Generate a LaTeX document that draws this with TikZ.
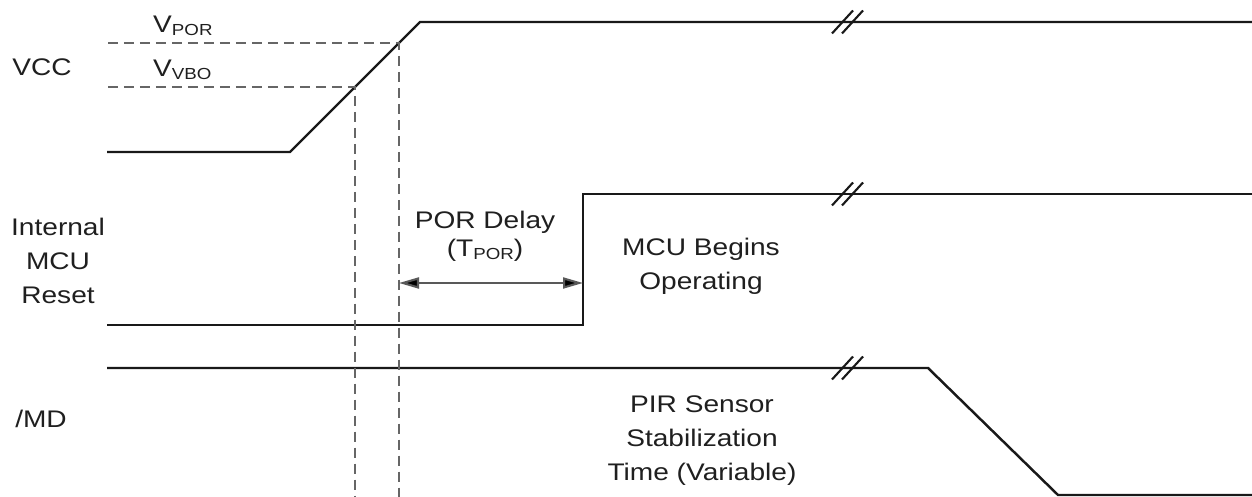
\documentclass[tikz,border=0pt]{standalone}
\usepackage{fontspec}
\setmainfont[FakeStretch=1.17]{Liberation Sans}
\usetikzlibrary{arrows.meta}
\newcommand{\sbs}[1]{\raisebox{-0.12em}{\fontsize{9.1}{11}\selectfont #1}}

\begin{document}
\begin{tikzpicture}[x=1cm,y=1cm,line width=1.4pt,font=\fontsize{13.66}{19.6}\selectfont,
  sig/.style={draw=black!90,line width=1.4pt},
  guide/.style={draw=black!60,line width=0.85pt,dash pattern=on 5.7pt off 3.4pt},
  brk/.style={draw=black!90,line width=1.2pt},
  lbl/.style={inner sep=0pt,align=center,anchor=base,text=black!88}]
\useasboundingbox (0,0) rectangle (25.04,9.94);
\coordinate (vlo) at (2.14,6.90);
\coordinate (vup) at (5.80,6.90);
\coordinate (vtop) at (8.40,9.50);
\coordinate (vbo) at (7.10,8.20);
\coordinate (por) at (7.98,9.08);
\coordinate (rup) at (11.66,6.06);
\coordinate (rlo) at (11.66,3.44);
\coordinate (mdfall) at (18.56,2.58);
\coordinate (mdlow) at (21.16,0.04);
\draw[sig] (vlo)--(vup)--(vtop)--(25.04,9.50);
\draw[sig] (2.14,3.44)--(rlo)--(rup)--(25.04,6.06);
\draw[sig] (2.14,2.58)--(mdfall)--(mdlow)--(25.04,0.04);
\draw[guide] (2.16,9.08)--(por)--(7.98,0);
\draw[guide] (2.16,8.20)--(vbo)--(7.10,0);
\coordinate (dly) at (7.98,4.28);
\coordinate (dlyend) at (11.66,4.28);
\draw[draw=black!65,line width=1.2pt,{Triangle[length=0.4cm,width=0.22cm,fill=black]}-{Triangle[length=0.4cm,width=0.22cm,fill=black]}] (dly)--(dlyend);
\foreach \y in {9.50,6.06,2.58}
  \draw[brk] (16.64,\y-0.23)--++(0.42,0.46) (16.84,\y-0.23)--++(0.42,0.46);
\node[lbl] (vcc) at (0.84,8.42) {VCC};
\node[lbl,anchor=base west] (vporlbl) at (3.04,9.28) {V\sbs{POR}};
\node[lbl,anchor=base west] (vvbolbl) at (3.04,8.40) {V\sbs{VBO}};
\node[lbl] (rst) at (1.16,3.86) {Internal\\MCU\\Reset};
\node[lbl] (md) at (0.82,1.38) {/MD};
\node[lbl] (dlylbl) at (9.70,4.80) {POR Delay\\[-0.12cm](T\sbs{POR})};
\node[lbl] (run) at (14.02,4.14) {MCU Begins\\Operating};
\node[lbl] (pir) at (14.04,0.32) {PIR Sensor\\Stabilization\\Time (Variable)};
\end{tikzpicture}
\end{document}
